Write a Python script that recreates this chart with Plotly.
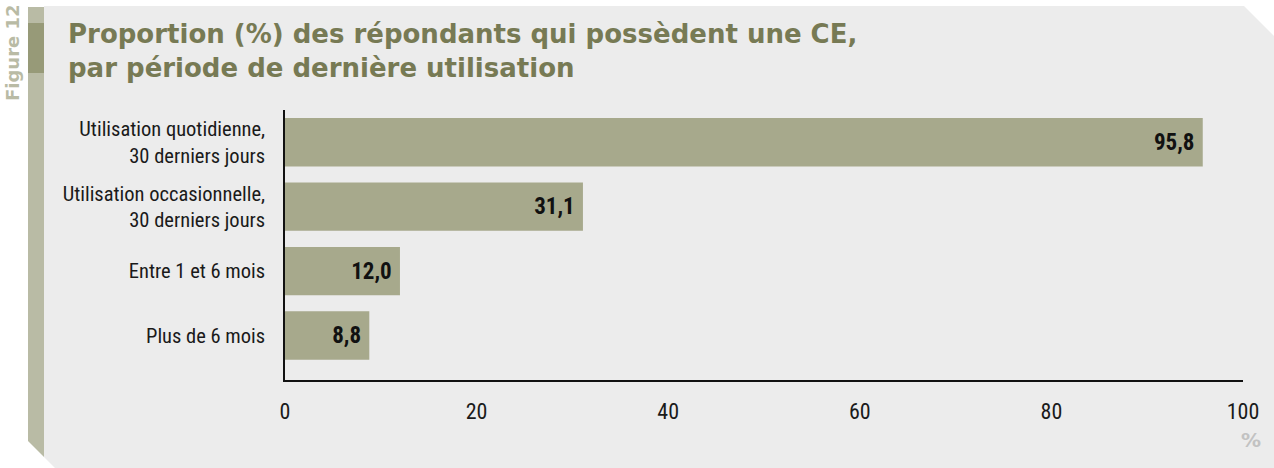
import plotly.graph_objects as go

categories = ["Utilisation quotidienne,<br>30 derniers jours",
              "Utilisation occasionnelle,<br>30 derniers jours",
              "Entre 1 et 6 mois",
              "Plus de 6 mois"]
values = [95.8, 31.1, 12.0, 8.8]
x_ticks = [0, 20, 40, 60, 80, 100]

W, H = 1274, 468
L, R, T, B = 285, 31, 110, 88
pw, ph = W - L - R, H - T - B


def px(x, y):
    # pixel -> paper coordinates
    return (x - L) / pw, (H - B - y) / ph


def path(points):
    s = ""
    for i, (x, y) in enumerate(points):
        a, b = px(x, y)
        s += ("M" if i == 0 else "L") + f"{a:.5f},{b:.5f} "
    return s + "Z"


cond = "Roboto Condensed, Roboto, sans-serif"

fig = go.Figure(go.Bar(
    x=values, y=categories, orientation="h",
    marker=dict(color="#a7a98c", line_width=0),
    width=0.75,
    text=values, texttemplate="<b>%{x:.1f}</b>\u00a0",
    textposition="inside", insidetextanchor="end",
    textfont=dict(family=cond, size=23, color="#111111"),
    hoverinfo="skip",
))

shapes = [
    # panel background with cut corners
    dict(type="path", xref="paper", yref="paper", layer="below", line_width=0,
         fillcolor="#ececec",
         path=path([(44, 6), (1244, 6), (1274, 36), (1274, 468), (55, 468), (44, 457)])),
    # side strip
    dict(type="path", xref="paper", yref="paper", layer="below", line_width=0,
         fillcolor="#b9bba5",
         path=path([(28, 7), (44, 7), (44, 457), (28, 441)])),
    dict(type="path", xref="paper", yref="paper", layer="below", line_width=0,
         fillcolor="#979a78",
         path=path([(28, 23), (44, 23), (44, 73), (28, 73)])),
]

annotations = [
    dict(text="Figure 12", xref="paper", yref="paper", x=px(12, 0)[0], y=px(0, 53)[1],
         textangle=-90, showarrow=False, xanchor="center", yanchor="middle",
         font=dict(family="DejaVu Sans", size=18, color="#b9bba5", weight="bold")),
    dict(text="Proportion (%) des répondants qui possèdent une CE,<br>par période de dernière utilisation",
         xref="paper", yref="paper", x=px(66, 0)[0], y=px(0, 17)[1], align="left",
         showarrow=False, xanchor="left", yanchor="top",
         font=dict(family="DejaVu Sans", size=26, color="#777a54", weight="bold")),
    dict(text="%", xref="paper", yref="paper", x=px(1263, 0)[0], y=px(0, 440)[1],
         showarrow=False, xanchor="right", yanchor="middle",
         font=dict(family="DejaVu Sans", size=20, color="#c2c2c2", weight="bold")),
]

fig.update_layout(
    width=W, height=H,
    margin=dict(l=L, r=R, t=T, b=B, pad=0),
    paper_bgcolor="white", plot_bgcolor="rgba(0,0,0,0)",
    separators=", ",
    showlegend=False,
    shapes=shapes, annotations=annotations,
    font=dict(family=cond, size=18, color="#1a1a1a"),
)
fig.update_xaxes(range=[0, 100], tickvals=x_ticks, showgrid=False, zeroline=False,
                 showline=True, linecolor="#111111", linewidth=1.5,
                 ticks="outside", ticklen=11, tickcolor="rgba(0,0,0,0)",
                 tickfont=dict(family=cond, size=22, color="#1a1a1a"))
fig.update_yaxes(range=[3.69, -0.5], showgrid=False, zeroline=False,
                 showline=True, linecolor="#111111", linewidth=1.5,
                 ticks="outside", ticklen=14, tickcolor="rgba(0,0,0,0)",
                 tickfont=dict(family=cond, size=20.5, color="#1a1a1a"))

fig.write_html("out.html", config={"displayModeBar": False},
               post_script="document.body.style.margin='0';")
